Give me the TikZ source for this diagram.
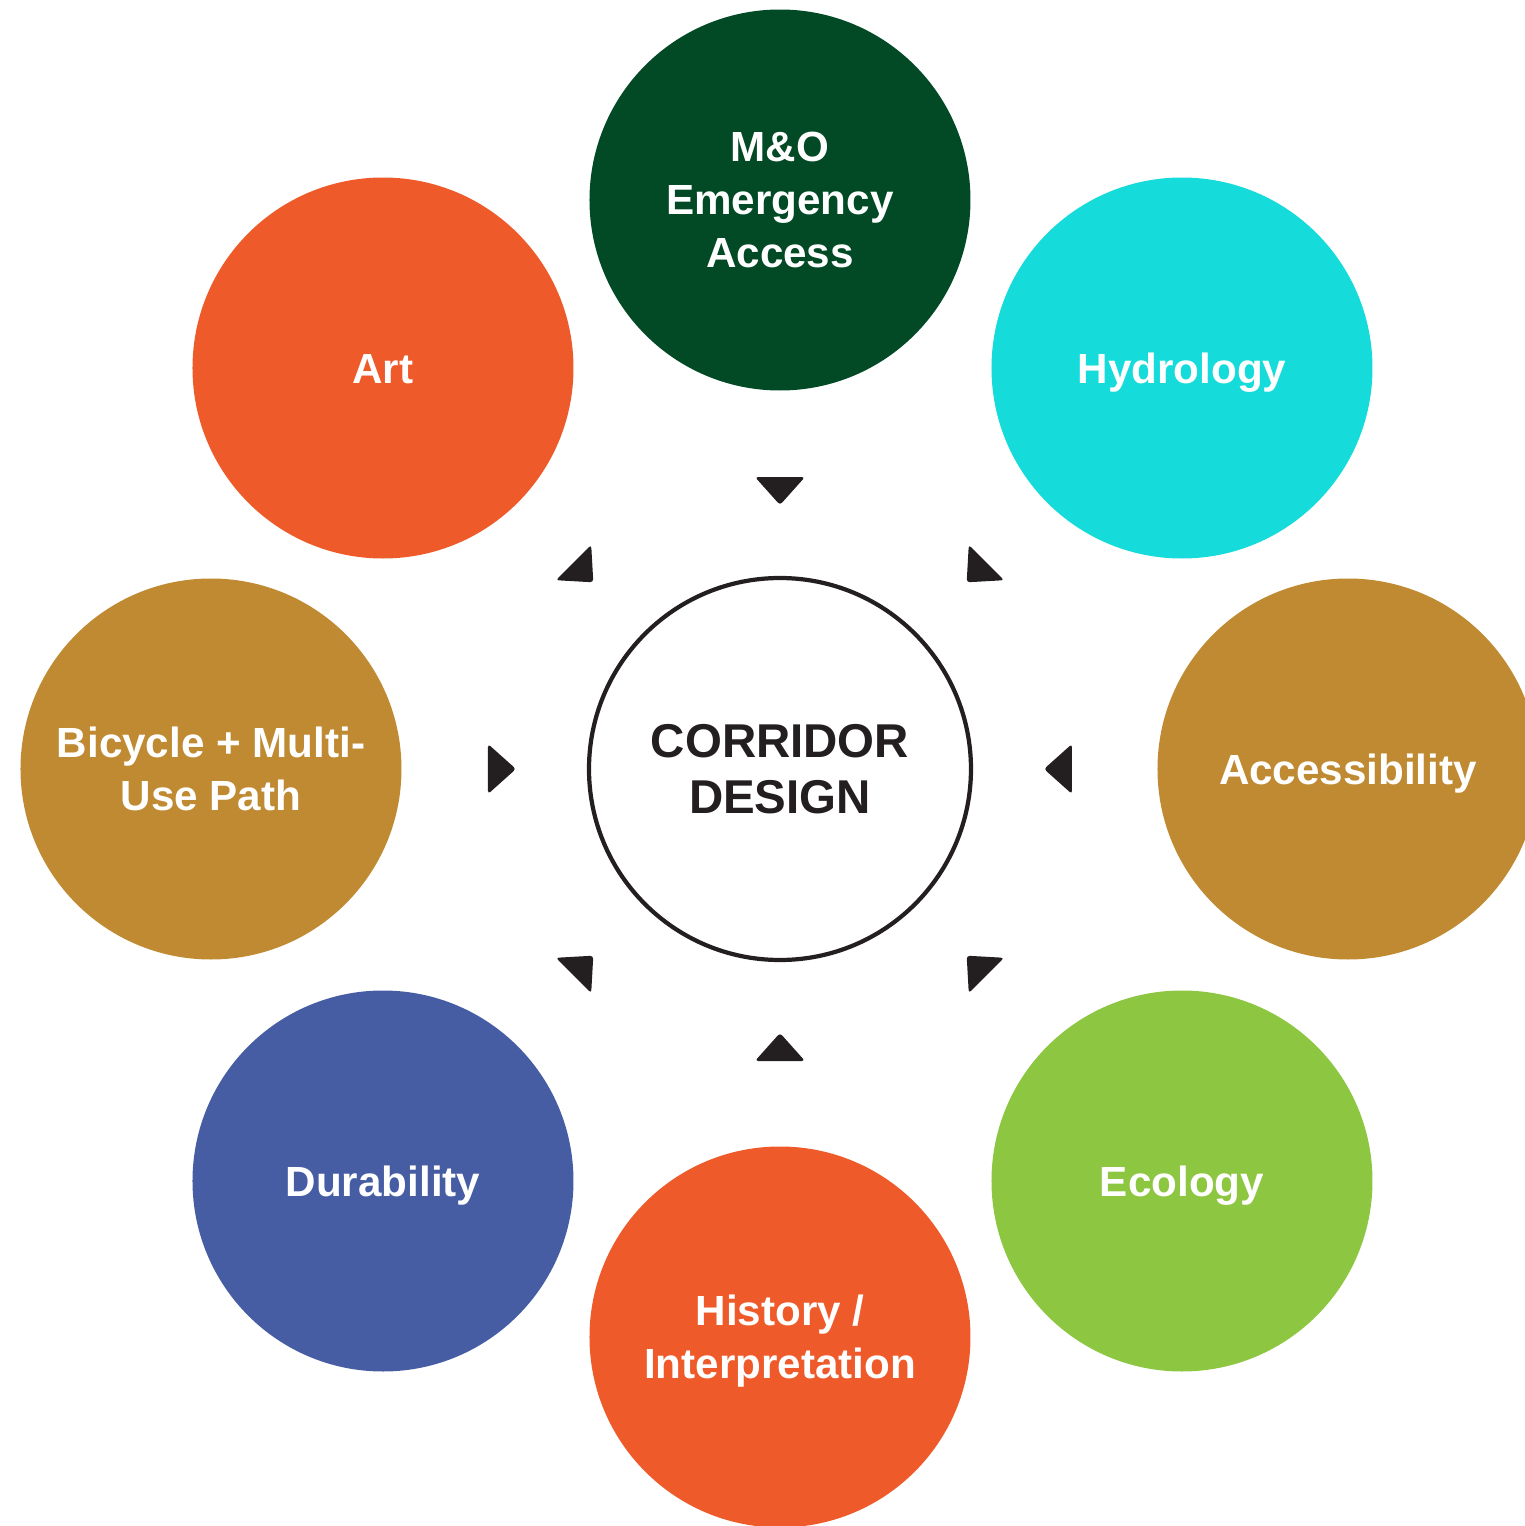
\documentclass[tikz,border=0pt]{standalone}
\usepackage{fontspec}
\setmainfont{Liberation Sans}
\definecolor{mogreen}{HTML}{024A25}
\definecolor{hydrocyan}{HTML}{15DBDB}
\definecolor{artorange}{HTML}{EE5A2A}
\definecolor{pathgold}{HTML}{BF8A32}
\definecolor{ecogreen}{HTML}{8DC641}
\definecolor{durblue}{HTML}{465DA3}
\definecolor{pointer}{HTML}{231F20}

\begin{document}
\begin{tikzpicture}[
  topic/.style={circle, minimum size=3.81cm, inner sep=0pt, align=center,
    text=white, font=\fontsize{12}{15}\selectfont\bfseries},
  oneline/.style={text height=8.6pt, text depth=0pt},
  core/.style={circle, draw=pointer, line width=1.2pt, fill=white,
    minimum size=3.82cm, inner sep=0pt, align=center, text=pointer,
    font=\fontsize{13.5}{16}\selectfont\bfseries}
]
  \useasboundingbox (-7.80,-7.57) rectangle (7.45,7.69);
  % Draw centre circle
  \node[core] (corridor) at (0,0) {CORRIDOR\\DESIGN};
  % Draw topic circles
  \node[topic, fill=mogreen] (access) at (0,5.69) {M\&O\\Emergency\\Access};
  \node[topic, oneline, fill=hydrocyan] (hydro) at (4.02,4.01) {Hydrology};
  \node[topic, oneline, fill=pathgold] (ada) at (5.68,0) {Accessibility};
  \node[topic, oneline, fill=ecogreen] (eco) at (4.02,-4.12) {Ecology};
  \node[topic, fill=artorange] (history) at (0,-5.68)
    {History /\\\raisebox{0pt}[\height][0pt]{Interpretation}};
  \node[topic, oneline, fill=durblue] (durable) at (-3.97,-4.12) {Durability};
  \node[topic, fill=pathgold] (bike) at (-5.69,0) {Bicycle + Multi-\\Use Path};
  \node[topic, oneline, fill=artorange] (art) at (-3.97,4.01) {Art};
  % Draw pointers towards the centre
  \foreach \a in {0,45,...,315}
    \fill[pointer, rounded corners=0.9pt, rotate=\a]
      (2.64,0) -- (2.92,0.25) -- (2.92,-0.25) -- cycle;
\end{tikzpicture}
\end{document}
